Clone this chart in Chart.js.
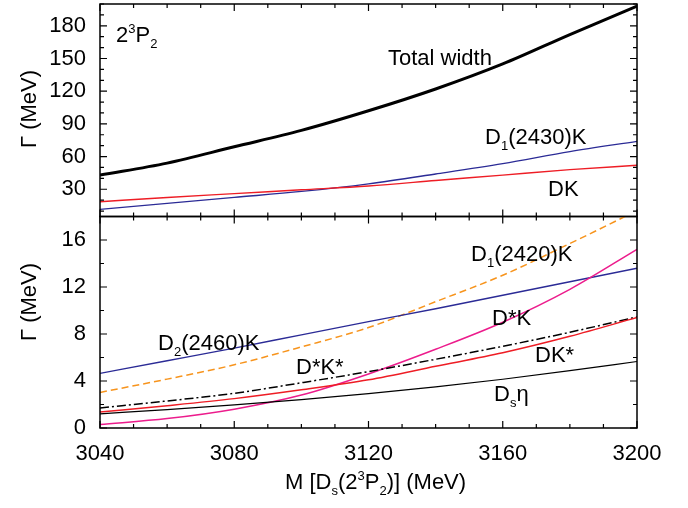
<!DOCTYPE html>
<html>
<head>
<meta charset="utf-8">
<script src="https://cdn.jsdelivr.net/npm/chart.js@4.4.1/dist/chart.umd.min.js"></script>
<style>
  html, body { margin: 0; padding: 0; background: #fff; }
  #wrap { position: relative; width: 688px; height: 508px; font-family: 'Liberation Sans', Arial, Helvetica, sans-serif; color: #000; }
  #topBox { position: absolute; left: 0; top: 0; width: 688px; height: 220px; }
  #botBox { position: absolute; left: 0; top: 212px; width: 688px; height: 296px; }
  .lab { position: absolute; font-size: 22px; line-height: 22px; white-space: nowrap; }
  .lab sub, .lab sup { font-size: 13px; line-height: 0; }
  .lab sub { vertical-align: -6px; }
  .lab sup { vertical-align: 9px; }
  .ytitle { position: absolute; font-size: 22px; line-height: 22px; white-space: nowrap; transform: translate(-50%, -50%) rotate(-90deg); }
</style>
</head>
<body>
<div id="wrap">
  <div id="topBox"><canvas id="topChart"></canvas></div>
  <div id="botBox"><canvas id="botChart"></canvas></div>

  <div class="ytitle" style="left:29px; top:109px;">&Gamma; (MeV)</div>
  <div class="ytitle" style="left:29px; top:302px;">&Gamma; (MeV)</div>

  <!-- top panel labels -->
  <div class="lab" style="left:116px; top:24px; font-size:22px;">2<sup>3</sup>P<sub>2</sub></div>
  <div class="lab" style="left:388px; top:47px;">Total width</div>
  <div class="lab" style="left:485px; top:126px;">D<sub>1</sub>(2430)K</div>
  <div class="lab" style="left:548px; top:178px;">DK</div>

  <!-- bottom panel labels -->
  <div class="lab" style="left:471px; top:243px;">D<sub>1</sub>(2420)K</div>
  <div class="lab" style="left:158px; top:332px;">D<sub>2</sub>(2460)K</div>
  <div class="lab" style="left:492px; top:307px;">D*K</div>
  <div class="lab" style="left:296px; top:356px;">D*K*</div>
  <div class="lab" style="left:535px; top:344px;">DK*</div>
  <div class="lab" style="left:494px; top:383px;">D<sub>s</sub>&eta;</div>

  <!-- x axis title -->
  <div class="lab" style="left:285px; top:471px;">M [D<sub>s</sub>(2<sup>3</sup>P<sub>2</sub>)] (MeV)</div>
</div>

<script>
const masses = [3040, 3060, 3080, 3100, 3120, 3140, 3160, 3180, 3200];

// Top panel widths (MeV)
const totalWidth = [43, 54, 69, 84, 102, 122, 145, 172, 198];
const d1_2430K   = [11.5, 17, 22.5, 28, 35, 44, 53.5, 64.5, 74];
const dK         = [18.5, 22.5, 26, 29.5, 33, 38, 43, 48, 52];

// Bottom panel widths (MeV)
const d1_2420K   = [3.03, 4.16, 5.38, 6.9, 8.55, 10.75, 13.0, 15.7, 18.5];
const d2_2460K   = [4.65, 5.72, 6.8, 7.93, 9.05, 10.15, 11.3, 12.45, 13.6];
const dStarK     = [0.3, 0.8, 1.6, 2.8, 4.6, 6.7, 9.0, 11.8, 15.2];
const dStarKStar = [1.7, 2.3, 2.95, 3.85, 4.8, 5.85, 6.95, 8.15, 9.45];
const dKStar     = [1.36, 1.9, 2.5, 3.25, 4.1, 5.25, 6.4, 7.8, 9.4];
const dsEta      = [1.21, 1.57, 1.97, 2.42, 2.93, 3.5, 4.15, 4.88, 5.66];

// Tick labels
const xTicks = [3040, 3080, 3120, 3160, 3200];
const topYTicks = [30, 60, 90, 120, 150, 180];
const botYTicks = [0, 4, 8, 12, 16];

const FONT = "'Liberation Sans', Arial, Helvetica, sans-serif";
Chart.defaults.font.family = FONT;
Chart.defaults.color = '#000';

function points(values) {
    return masses.map((m, i) => ({ x: m, y: values[i] }));
}

function line(values, color, width, dash) {
    return {
        data: points(values),
        borderColor: color,
        borderWidth: width,
        borderDash: dash || [],
        pointRadius: 0,
        fill: false,
        cubicInterpolationMode: 'monotone'
    };
}

// Draws the box round the plot with inward ticks on all four sides
const framePlugin = {
    id: 'frame',
    afterDatasetsDraw(chart, args, opts) {
        const { ctx, chartArea: a, scales } = chart;
        const x = scales.x, y = scales.y;
        ctx.save();
        ctx.strokeStyle = '#000';
        ctx.lineWidth = 1.2;
        ctx.beginPath();
        for (let v = x.min; v <= x.max + 0.001; v += opts.xMinor) {
            const len = xTicks.includes(v) ? 7 : 4;
            const px = x.getPixelForValue(v);
            ctx.moveTo(px, a.bottom); ctx.lineTo(px, a.bottom - len);
            ctx.moveTo(px, a.top); ctx.lineTo(px, a.top + len);
        }
        for (let v = opts.yMinorStart; v <= y.max + 0.001; v += opts.yMinor) {
            const len = opts.yMajor.includes(v) ? 7 : 4;
            const py = y.getPixelForValue(v);
            ctx.moveTo(a.left, py); ctx.lineTo(a.left + len, py);
            ctx.moveTo(a.right, py); ctx.lineTo(a.right - len, py);
        }
        ctx.stroke();
        ctx.lineWidth = 1.5;
        ctx.strokeRect(a.left, a.top, a.right - a.left, a.bottom - a.top);
        ctx.restore();
    }
};

function noPadding(s) {
    s.paddingTop = 0; s.paddingBottom = 0; s.paddingLeft = 0; s.paddingRight = 0;
}

function yScale(min, max, ticks) {
    return {
        type: 'linear',
        min: min,
        max: max,
        grid: { display: false, drawTicks: false },
        border: { display: false },
        ticks: { font: { size: 22 }, color: '#000', padding: 14 },
        afterBuildTicks: s => { s.ticks = ticks.map(v => ({ value: v })); },
        afterFit: s => { s.width = 100; noPadding(s); }
    };
}

// Top panel
new Chart(document.getElementById('topChart'), {
    type: 'line',
    data: {
        datasets: [
            line(dK, '#ee1d25', 1.4),
            line(d1_2430K, '#2b2b96', 1.3),
            line(totalWidth, '#000', 3)
        ]
    },
    options: {
        responsive: true,
        maintainAspectRatio: false,
        animation: false,
        layout: { autoPadding: false, padding: { left: 0, right: 51, top: 4, bottom: 0 } },
        scales: {
            x: {
                type: 'linear',
                min: 3040,
                max: 3200,
                grid: { display: false, drawTicks: false },
                border: { display: false },
                ticks: { display: false },
                afterFit: s => { s.height = 3.5; noPadding(s); }
            },
            y: yScale(5, 200, topYTicks)
        },
        plugins: {
            legend: { display: false },
            tooltip: { enabled: false },
            frame: { xMinor: 10, yMinor: 10, yMinorStart: 10, yMajor: topYTicks }
        }
    },
    plugins: [framePlugin]
});

// Bottom panel
new Chart(document.getElementById('botChart'), {
    type: 'line',
    data: {
        datasets: [
            line(dsEta, '#000', 1.2),
            line(dKStar, '#ee1d25', 1.5),
            line(dStarKStar, '#000', 1.5, [9, 3, 2, 3]),
            line(dStarK, '#ec1c8c', 1.5),
            line(d2_2460K, '#2b2b96', 1.4),
            line(d1_2420K, '#f7941d', 1.5, [7, 4])
        ]
    },
    options: {
        responsive: true,
        maintainAspectRatio: false,
        animation: false,
        layout: { autoPadding: false, padding: { left: 0, right: 51, top: 4.5, bottom: 0 } },
        scales: {
            x: {
                type: 'linear',
                min: 3040,
                max: 3200,
                grid: { display: false, drawTicks: false },
                border: { display: false },
                ticks: {
                    font: { size: 22 },
                    color: '#000',
                    padding: 13,
                    callback: v => String(v)
                },
                afterBuildTicks: s => { s.ticks = xTicks.map(v => ({ value: v })); },
                afterFit: s => { s.height = 80; noPadding(s); }
            },
            y: yScale(0, 18, botYTicks)
        },
        plugins: {
            legend: { display: false },
            tooltip: { enabled: false },
            frame: { xMinor: 10, yMinor: 2, yMinorStart: 0, yMajor: botYTicks }
        }
    },
    plugins: [framePlugin]
});
</script>
</body>
</html>
